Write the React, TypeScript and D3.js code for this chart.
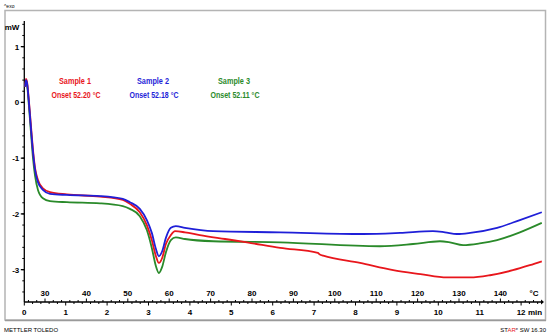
import React, { useEffect, useRef } from 'react';
import * as d3 from 'd3';

// time in min, heat flow in mW
const sample1Time = [0.02, 0.04, 0.065, 0.11, 0.16, 0.21, 0.26, 0.33, 0.45, 0.62, 1.03, 1.83, 2.38, 2.55, 2.79, 2.96, 3.08, 3.18, 3.25, 3.33, 3.42, 3.54, 3.64, 3.88, 4.24, 4.85, 5.38, 6.18, 7.09, 7.14, 7.22, 8.11, 8.91, 9.57, 10.21, 10.77, 11.25, 11.8, 12.21, 12.5];
const sample1Flow = [0.28, 0.42, 0.37, 0.04, -0.41, -0.85, -1.18, -1.39, -1.54, -1.61, -1.65, -1.69, -1.75, -1.82, -1.97, -2.2, -2.47, -2.76, -2.88, -2.79, -2.54, -2.38, -2.31, -2.33, -2.38, -2.45, -2.51, -2.61, -2.7, -2.73, -2.75, -2.88, -3.01, -3.08, -3.14, -3.14, -3.1, -3.01, -2.92, -2.85];

const sample2Time = [0.02, 0.04, 0.065, 0.11, 0.16, 0.21, 0.26, 0.33, 0.45, 0.62, 1.03, 1.83, 2.38, 2.55, 2.79, 2.96, 3.08, 3.18, 3.25, 3.33, 3.42, 3.54, 3.66, 3.88, 4.56, 6.18, 8.18, 9.08, 9.87, 10.16, 10.45, 10.77, 11.42, 11.97, 12.5];
const sample2Flow = [0.28, 0.4, 0.35, 0.01, -0.46, -0.89, -1.21, -1.43, -1.57, -1.64, -1.66, -1.68, -1.73, -1.79, -1.91, -2.11, -2.34, -2.63, -2.76, -2.67, -2.43, -2.25, -2.22, -2.25, -2.31, -2.33, -2.36, -2.34, -2.31, -2.33, -2.36, -2.34, -2.25, -2.11, -1.97];

const sample3Time = [0.02, 0.04, 0.065, 0.11, 0.16, 0.21, 0.26, 0.33, 0.45, 0.62, 1.03, 1.83, 2.38, 2.55, 2.79, 2.96, 3.08, 3.18, 3.25, 3.33, 3.42, 3.54, 3.66, 3.88, 4.56, 6.18, 8.59, 9.39, 10.04, 10.28, 10.6, 11.0, 11.42, 11.97, 12.5];
const sample3Flow = [0.28, 0.38, 0.33, -0.05, -0.53, -1.0, -1.32, -1.57, -1.72, -1.77, -1.79, -1.81, -1.86, -1.91, -2.04, -2.29, -2.61, -2.94, -3.06, -2.95, -2.69, -2.47, -2.42, -2.45, -2.49, -2.51, -2.58, -2.54, -2.49, -2.51, -2.56, -2.53, -2.47, -2.33, -2.16];

const sampleNames = ['Sample 1', 'Sample 2', 'Sample 3'];
const onsetLabels = ['Onset 52.20 °C', 'Onset 52.18 °C', 'Onset 52.11 °C'];
const sampleColors = ['#e8161c', '#1f1fd8', '#2a8a2a'];

const flowTicks = [1, 0, -1, -2, -3];
const timeTicks = [0, 1, 2, 3, 4, 5, 6, 7, 8, 9, 10, 11, 12];
const tempTicks = [30, 40, 50, 60, 70, 80, 90, 100, 110, 120, 130, 140];

const W = 550;
const H = 335;

export default function App() {
  const ref = useRef<SVGSVGElement>(null);

  useEffect(() => {
    const svg = d3.select(ref.current);
    svg.selectAll('*').remove();
    const font = '"Liberation Sans", Arial, sans-serif';

    const x = d3.scaleLinear().domain([0, 12.5]).range([24.3, 541.8]);
    const xT = d3.scaleLinear().domain([25, 150]).range([24.3, 541.8]);
    const y = d3.scaleLinear().domain([0, -3.58]).range([102.4, 302]);
    const x0 = x(0);
    const yBase = y(-3.58);

    // frame
    svg.append('rect')
      .attr('x', 5).attr('y', 10.5).attr('width', 540.5).attr('height', 309.5)
      .attr('fill', 'none').attr('stroke', '#b4b4b4').attr('stroke-width', 1.5);
    svg.append('line')
      .attr('x1', 5).attr('x2', 546).attr('y1', 320.5).attr('y2', 320.5)
      .attr('stroke', '#9a9a9a').attr('stroke-width', 1.5);

    // y axis
    svg.append('line')
      .attr('x1', x0).attr('x2', x0).attr('y1', 21).attr('y2', yBase)
      .attr('stroke', '#000').attr('stroke-width', 1.3);
    const minorY = d3.range(-3.4, 1.41, 0.2);
    svg.append('g').selectAll('line').data(minorY).join('line')
      .attr('x1', x0 - 2).attr('x2', x0)
      .attr('y1', d => y(d)).attr('y2', d => y(d))
      .attr('stroke', '#000').attr('stroke-width', 1);
    svg.append('g').selectAll('line').data(flowTicks).join('line')
      .attr('x1', x0 - 3.5).attr('x2', x0)
      .attr('y1', d => y(d)).attr('y2', d => y(d))
      .attr('stroke', '#000').attr('stroke-width', 1.3);
    svg.append('g').selectAll('text').data(flowTicks).join('text')
      .attr('x', x0 - 5).attr('y', d => y(d) + 3)
      .attr('text-anchor', 'end').attr('font-family', font)
      .attr('font-size', 8).attr('font-weight', 'bold')
      .text(d => String(d));
    svg.append('text')
      .attr('x', x0 - 5).attr('y', 30).attr('text-anchor', 'end')
      .attr('font-family', font).attr('font-size', 8).attr('font-weight', 'bold')
      .text('mW');
    svg.append('text')
      .attr('x', 4).attr('y', 8).attr('font-family', font).attr('font-size', 5)
      .text('^exo');

    // x axis
    svg.append('line')
      .attr('x1', x0).attr('x2', 541).attr('y1', yBase).attr('y2', yBase)
      .attr('stroke', '#000').attr('stroke-width', 1.3);
    svg.append('path')
      .attr('d', `M541,${yBase - 2.5} L544,${yBase} L541,${yBase + 2.5} Z`)
      .attr('fill', '#000');
    const minorT = d3.range(0, 12.41, 0.2);
    svg.append('g').selectAll('line').data(minorT).join('line')
      .attr('x1', d => x(d)).attr('x2', d => x(d))
      .attr('y1', yBase).attr('y2', d => yBase + (Math.abs(d - Math.round(d)) < 0.01 ? 3.5 : 2))
      .attr('stroke', '#000').attr('stroke-width', 1);
    const minorTemp = d3.range(26, 149, 2);
    svg.append('g').selectAll('line').data(minorTemp).join('line')
      .attr('x1', d => xT(d)).attr('x2', d => xT(d))
      .attr('y1', yBase).attr('y2', d => yBase - (d % 10 === 0 ? 3.5 : 2))
      .attr('stroke', '#000').attr('stroke-width', 1);
    svg.append('g').selectAll('text').data(timeTicks).join('text')
      .attr('x', d => x(d)).attr('y', yBase + 13)
      .attr('text-anchor', 'middle').attr('font-family', font)
      .attr('font-size', 8).attr('font-weight', 'bold')
      .text(d => String(d));
    svg.append('text')
      .attr('x', 535).attr('y', yBase + 13).attr('text-anchor', 'middle')
      .attr('font-family', font).attr('font-size', 8).attr('font-weight', 'bold')
      .text('min');
    svg.append('g').selectAll('text').data(tempTicks).join('text')
      .attr('x', d => xT(d)).attr('y', yBase - 6)
      .attr('text-anchor', 'middle').attr('font-family', font)
      .attr('font-size', 8).attr('font-weight', 'bold')
      .text(d => String(d));
    svg.append('text')
      .attr('x', 534).attr('y', yBase - 6).attr('text-anchor', 'middle')
      .attr('font-family', font).attr('font-size', 8).attr('font-weight', 'bold')
      .text('°C');

    // curves
    const series = [
      { t: sample1Time, v: sample1Flow },
      { t: sample2Time, v: sample2Flow },
      { t: sample3Time, v: sample3Flow },
    ];
    const line = d3.line<[number, number]>()
      .x(d => x(d[0]))
      .y(d => y(d[1]))
      .curve(d3.curveMonotoneX);
    // draw green, red, blue so blue sits on top like the reference
    [2, 0, 1].forEach(i => {
      const pts = series[i].t.map((t, k) => [t, series[i].v[k]] as [number, number]);
      svg.append('path')
        .datum(pts)
        .attr('fill', 'none')
        .attr('stroke', sampleColors[i])
        .attr('stroke-width', 1.8)
        .attr('stroke-linejoin', 'round')
        .attr('d', line);
    });

    // annotations
    const labelX = [75, 153, 234];
    sampleNames.forEach((name, i) => {
      svg.append('text')
        .attr('x', labelX[i]).attr('y', 83.5).attr('text-anchor', 'middle')
        .attr('font-family', font).attr('font-size', 9.5).attr('font-weight', 'bold')
        .attr('fill', sampleColors[i])
        .attr('textLength', 32).attr('lengthAdjust', 'spacingAndGlyphs')
        .text(name);
      svg.append('text')
        .attr('x', labelX[i] + 1).attr('y', 97.5).attr('text-anchor', 'middle')
        .attr('font-family', font).attr('font-size', 9.5).attr('font-weight', 'bold')
        .attr('fill', sampleColors[i])
        .attr('textLength', 49).attr('lengthAdjust', 'spacingAndGlyphs')
        .text(onsetLabels[i]);
    });

    // footer
    svg.append('text')
      .attr('x', 4).attr('y', 332).attr('font-family', font).attr('font-size', 6)
      .text('METTLER TOLEDO');
    const star = svg.append('text')
      .attr('x', 546).attr('y', 332).attr('text-anchor', 'end')
      .attr('font-family', font).attr('font-size', 6);
    star.append('tspan').text('ST');
    star.append('tspan').attr('fill', '#e8161c').text('AR');
    star.append('tspan').attr('font-size', 4).attr('dy', -2).text('e');
    star.append('tspan').attr('dy', 2).text(' SW 16.30');
  }, []);

  return (
    <svg ref={ref} width={W} height={H}
         style={{ position: 'absolute', left: 0, top: 0, background: '#fff' }} />
  );
}
